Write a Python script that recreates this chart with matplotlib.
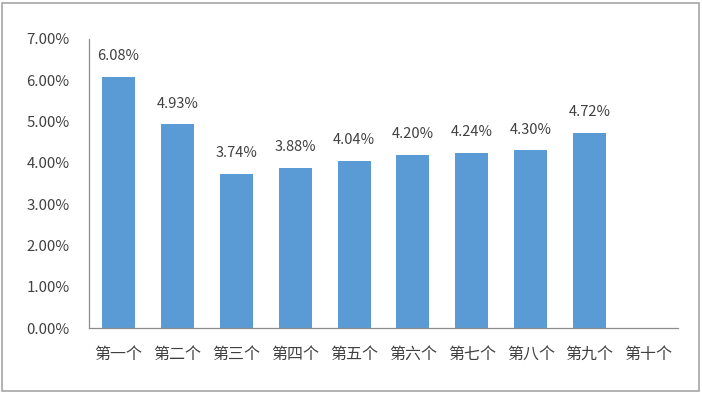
import matplotlib
matplotlib.use("Agg")
import matplotlib.pyplot as plt
from matplotlib.patches import Rectangle
from matplotlib.ticker import FuncFormatter

plt.rcParams['font.family'] = ['Noto Sans CJK SC', 'DejaVu Sans']

# data
categories = ["第一个", "第二个", "第三个", "第四个", "第五个",
              "第六个", "第七个", "第八个", "第九个", "第十个"]
values = [6.08, 4.93, 3.74, 3.88, 4.04, 4.20, 4.24, 4.30, 4.72, None]

text_color = "#404040"
bar_color = "#5B9BD5"

fig = plt.figure(figsize=(7.02, 3.93), dpi=100)
ax = fig.add_axes([89/702, 1 - 328/393, 589/702, 289/393])

# outer frame
fig.patches.append(Rectangle((2/702, 2/393), 697/702, 388/393,
                             transform=fig.transFigure, fill=False,
                             edgecolor="#A6A6A6", linewidth=1.2))

xs = list(range(len(categories)))
heights = [v if v is not None else 0 for v in values]
bars = ax.bar(xs, heights, width=0.56, color=bar_color)

for x, v in zip(xs, values):
    if v is None:
        continue
    ax.annotate(f"{v:.2f}%", (x, v), xytext=(0, 10), textcoords="offset points",
                ha="center", va="bottom", fontsize=10.5, color=text_color)

ax.set_xlim(-0.5, len(categories) - 0.5)
ax.set_ylim(0, 7)
ax.set_yticks([0, 1, 2, 3, 4, 5, 6, 7])
ax.yaxis.set_major_formatter(FuncFormatter(lambda y, _: f"{y:.2f}%"))
ax.set_xticks(xs)
ax.set_xticklabels(categories)

ax.tick_params(axis="y", length=0, labelsize=10.8, colors=text_color, pad=14)
ax.tick_params(axis="x", length=0, labelsize=11.5, colors=text_color, pad=13)

for s in ["top", "right"]:
    ax.spines[s].set_visible(False)
for s in ["left", "bottom"]:
    ax.spines[s].set_color("#8C8C8C")
    ax.spines[s].set_linewidth(0.9)

fig.savefig("out.png", dpi=100)
